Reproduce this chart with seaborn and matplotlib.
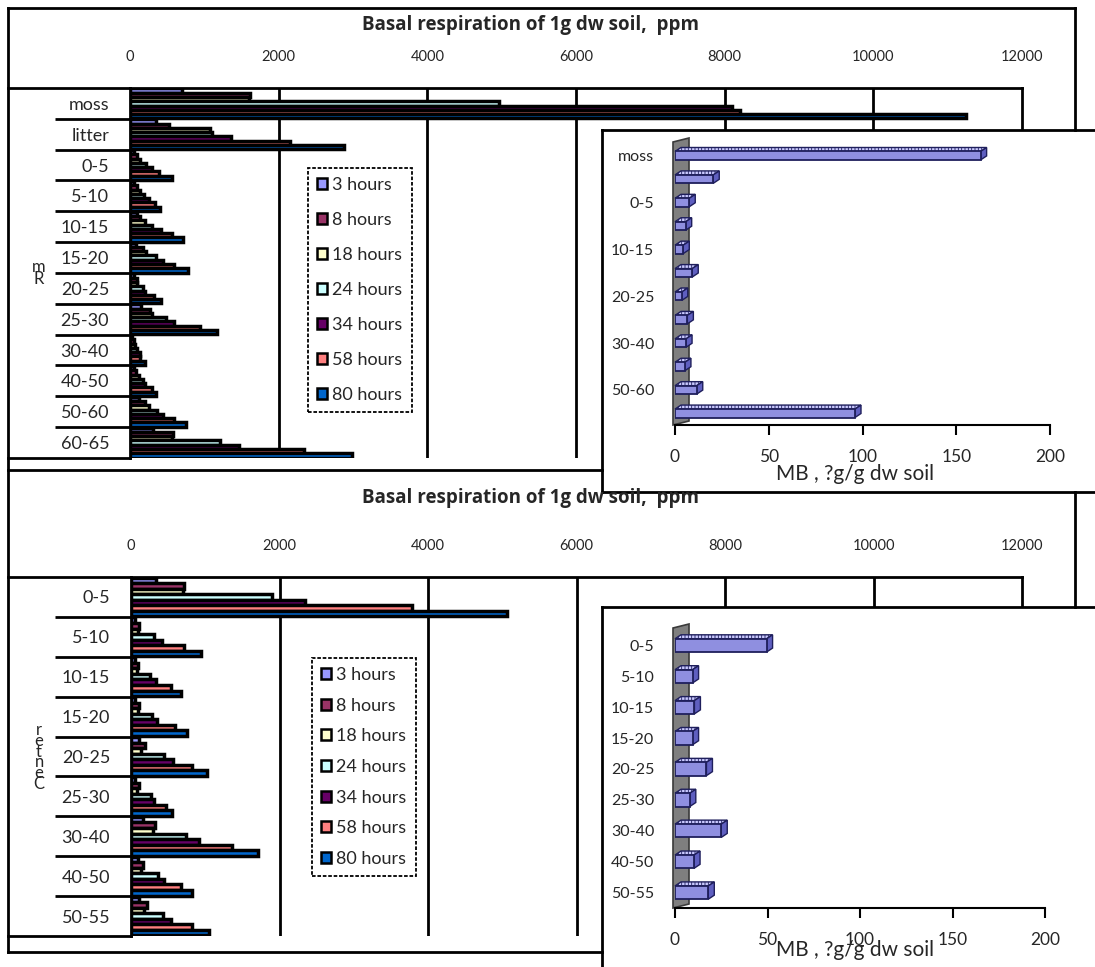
import numpy as np
import pandas as pd
import matplotlib
matplotlib.use("Agg")
import matplotlib.pyplot as plt
from matplotlib.lines import Line2D
from matplotlib.patches import Polygon, Patch
from matplotlib.transforms import IdentityTransform, blended_transform_factory
import seaborn as sns

# ---------------------------------------------------------------- data
hours = ["3 hours", "8 hours", "18 hours", "24 hours", "34 hours", "58 hours", "80 hours"]
hour_colors = ["#9999FF", "#993366", "#FFFFCC", "#CCFFFF", "#660066", "#FF8080", "#0066CC"]

resp_ticks = [0, 2000, 4000, 6000, 8000, 10000, 12000]
mb_ticks = [0, 50, 100, 150, 200]

# Rm profile: basal respiration (ppm) per layer for each incubation time
rm_layers = ["moss", "litter", "0-5", "5-10", "10-15", "15-20", "20-25",
             "25-30", "30-40", "40-50", "50-60", "60-65"]
rm_3h = [700, 350, 60, 50, 90, 80, 60, 150, 30, 60, 120, 305]
rm_8h = [1620, 520, 100, 90, 140, 180, 90, 270, 50, 80, 200, 580]
rm_18h = [1600, 1080, 130, 140, 200, 220, 100, 300, 70, 120, 250, 560]
rm_24h = [4960, 1100, 220, 190, 290, 350, 170, 490, 90, 180, 360, 1210]
rm_34h = [8100, 1360, 290, 250, 420, 450, 200, 590, 130, 200, 450, 1470]
rm_58h = [8210, 2150, 390, 330, 560, 590, 320, 940, 140, 300, 590, 2340]
rm_80h = [11240, 2880, 560, 400, 710, 780, 420, 1170, 200, 350, 760, 2980]
rm_mb = [163, 20.4, 7.6, 5.7, 4.4, 9.2, 3.6, 6.6, 5.9, 5.3, 11.6, 96]

# Center profile
ce_layers = ["0-5", "5-10", "10-15", "15-20", "20-25", "25-30", "30-40", "40-50", "50-55"]
ce_3h = [335, 60, 50, 60, 110, 60, 165, 95, 105]
ce_8h = [720, 110, 100, 110, 190, 110, 320, 165, 210]
ce_18h = [700, 90, 80, 100, 140, 85, 300, 140, 180]
ce_24h = [1900, 310, 250, 280, 450, 270, 735, 365, 435]
ce_34h = [2340, 420, 330, 355, 560, 315, 915, 445, 535]
ce_58h = [3780, 715, 540, 590, 820, 465, 1365, 680, 820]
ce_80h = [5065, 940, 680, 760, 1025, 555, 1710, 820, 1045]
ce_mb = [49.5, 9.5, 10.5, 9.5, 17, 8, 25, 10.3, 18]

# ---------------------------------------------------------------- figure
sns.set_theme(style="white")
plt.rcParams["font.family"] = ["Lato", "DejaVu Sans"]
plt.rcParams["hatch.linewidth"] = 0.6

W, H = 1095, 967
fig = plt.figure(figsize=(W / 100, H / 100), dpi=100)
fig.patch.set_facecolor("white")


def box(l, t, r, b):
    return [l / W, 1 - b / H, (r - l) / W, (b - t) / H]


def fig_line(xs, ys, lw=2.0):
    fig.add_artist(Line2D([x / W for x in xs], [1 - y / H for y in ys],
                          color="black", lw=lw, solid_capstyle="projecting"))


def respiration_panel(layers, series, l, t, r, b, title_y, legend_xy, legend_spacing,
                      side_text, side_xy, side_spacing):
    ax = fig.add_axes(box(l, t, r, b))
    df = pd.DataFrame({
        "layer": np.tile(layers, len(hours)),
        "time": np.repeat(hours, len(layers)),
        "value": np.concatenate(series),
    })
    sns.barplot(data=df, x="value", y="layer", hue="time", orient="h",
                order=layers, hue_order=hours, palette=hour_colors, saturation=1,
                width=0.97, edgecolor="black", linewidth=2.5, errorbar=None,
                legend=False, ax=ax, zorder=3)
    ax.set_xlim(resp_ticks[0], resp_ticks[-1])
    ax.set_ylim(len(layers) - 0.5, -0.5)
    ax.xaxis.tick_top()
    ax.set_xticks(resp_ticks)
    ax.set_xticklabels([str(v) for v in resp_ticks], fontsize=10.5)
    ax.tick_params(axis="x", length=0, pad=17)
    ax.tick_params(axis="y", length=0, pad=15, labelsize=13)
    ax.set_xlabel("")
    ax.set_ylabel("")
    for v in resp_ticks[1:-1]:
        ax.axvline(v, color="black", lw=2, zorder=1)
    for s in ax.spines.values():
        s.set_color("black")
        s.set_linewidth(2)
    ax.spines["bottom"].set_visible(False)
    # separators between layer labels
    trans = blended_transform_factory(ax.transAxes, ax.transData)
    x_left = (55 - l) / (r - l)
    for k in range(1, len(layers)):
        ax.plot([x_left, 0], [k - 0.5, k - 0.5], color="black", lw=2,
                transform=trans, clip_on=False, solid_capstyle="butt")
    fig_line([8, l], [t, t])
    fig_line([8, l], [b, b])

    fig.text(530 / W, 1 - title_y / H, "Basal respiration of 1g dw soil,  ppm",
             ha="center", va="center", fontsize=13.5, fontweight="bold",
             family=["Open Sans", "DejaVu Sans"])

    handles = [Patch(facecolor=c, edgecolor="black", lw=1.8) for c in hour_colors]
    leg = ax.legend(handles, hours, loc="upper left",
                    bbox_to_anchor=(legend_xy[0] / W, 1 - legend_xy[1] / H),
                    bbox_transform=fig.transFigure, fontsize=13,
                    handlelength=0.55, handleheight=0.55, handletextpad=0.3,
                    labelspacing=legend_spacing, borderpad=0.5, borderaxespad=0,
                    fancybox=False, framealpha=1, edgecolor="black")
    leg.get_frame().set_linestyle((0, (2, 1)))
    leg.get_frame().set_linewidth(1.3)
    leg.set_zorder(5)

    fig.text(side_xy[0] / W, 1 - side_xy[1] / H, side_text, ha="center",
             va="center", fontsize=12, linespacing=side_spacing)
    return ax


def mb_panel(layers, mb, frame, l, t, r, b, label_step, title_y):
    fr = fig.add_axes(box(*frame))
    fr.set_xticks([])
    fr.set_yticks([])
    fr.set_facecolor("white")
    for s in fr.spines.values():
        s.set_color("black")
        s.set_linewidth(2)

    ax = fig.add_axes(box(l, t, r, b))
    ax.patch.set_alpha(0)
    df = pd.DataFrame({"layer": layers, "mb": mb})
    n = len(layers)
    bar_w = 0.36 if n > 10 else 0.43
    sns.barplot(data=df, x="mb", y="layer", orient="h", order=layers,
                color="#8F8FE0", saturation=1, width=bar_w,
                edgecolor="#1F1F5C", linewidth=1.3, errorbar=None, ax=ax, zorder=4)
    bars = list(ax.patches)
    ax.set_xlim(mb_ticks[0], mb_ticks[-1])
    ax.set_ylim(n - 0.5, -0.5)
    ax.set_xticks(mb_ticks)
    ax.set_xticklabels([str(v) for v in mb_ticks], fontsize=12.5)
    ax.set_yticks(range(n))
    ax.set_yticklabels([lab if i % label_step == 0 else "" for i, lab in enumerate(layers)],
                       fontsize=11.5)
    ax.tick_params(axis="x", direction="out", length=7, width=1.5, color="black",
                   pad=10, bottom=True)
    ax.tick_params(axis="y", length=0, pad=15)
    ax.set_xlabel("")
    ax.set_ylabel("")
    for side in ("top", "right", "left"):
        ax.spines[side].set_visible(False)
    ax.spines["bottom"].set_color("black")
    ax.spines["bottom"].set_linewidth(1.5)

    # 3-D look: side wall plus depth faces on each bar
    dx, dy = 6, 4
    x0 = ax.transData.transform((0, 0))[0]
    ab = ax.get_window_extent()
    wall = [(x0 - 2, ab.y0), (x0 - 2, ab.y1 + 2), (x0 + 14, ab.y1 + 2 + dy),
            (x0 + 14, ab.y0 + dy)]
    ax.add_patch(Polygon(wall, closed=True, transform=IdentityTransform(),
                         facecolor="#7F7F7F", edgecolor="#3A3A3A", lw=1.2,
                         clip_on=False, zorder=2))
    for p in bars:
        px, py, pw, ph = p.get_x(), p.get_y(), p.get_width(), p.get_height()
        c = ax.transData.transform([(px, py), (px + pw, py + ph)])
        xl, xr = sorted(c[:, 0])
        yb, yt = sorted(c[:, 1])
        side_face = [(xr, yb), (xr, yt), (xr + dx, yt + dy), (xr + dx, yb + dy)]
        top_face = [(xl, yt), (xr, yt), (xr + dx, yt + dy), (xl + dx, yt + dy)]
        ax.add_patch(Polygon(top_face, closed=True, transform=IdentityTransform(),
                             facecolor="#C9C9FF", edgecolor="#1F1F5C", lw=1.0,
                             hatch="|||||", clip_on=False, zorder=3))
        ax.add_patch(Polygon(side_face, closed=True, transform=IdentityTransform(),
                             facecolor="#5F5FC0", edgecolor="#1F1F5C", lw=1.0,
                             clip_on=False, zorder=3))

    fig.text(855 / W, 1 - title_y / H, "MB , ?g/g dw soil", ha="center",
             va="center", fontsize=15)
    return ax


# outer borders of the two chart areas
fig_line([8, 1075], [8, 8])
fig_line([8, 8], [8, 952])
fig_line([1075, 1075], [8, 130])
fig_line([8, 602], [470, 470])
fig_line([1075, 1075], [492, 607])
fig_line([8, 602], [952, 952])

respiration_panel(rm_layers, [rm_3h, rm_8h, rm_18h, rm_24h, rm_34h, rm_58h, rm_80h],
                  130, 88, 1022, 458, 25, (308, 168), 1.05,
                  "m\nR", (39, 273), 0.62)
respiration_panel(ce_layers, [ce_3h, ce_8h, ce_18h, ce_24h, ce_34h, ce_58h, ce_80h],
                  131, 577, 1022, 936, 498, (312, 658), 0.81,
                  "r\ne\nt\nn\ne\nC", (39, 757), 0.6)

mb_panel(rm_layers, rm_mb, (602, 130, 1110, 492), 675, 144, 1050, 425, 2, 474)
mb_panel(ce_layers, ce_mb, (602, 607, 1110, 985), 675, 630, 1045, 908, 1, 950)

fig.savefig("out.png", dpi=100, facecolor="white")
